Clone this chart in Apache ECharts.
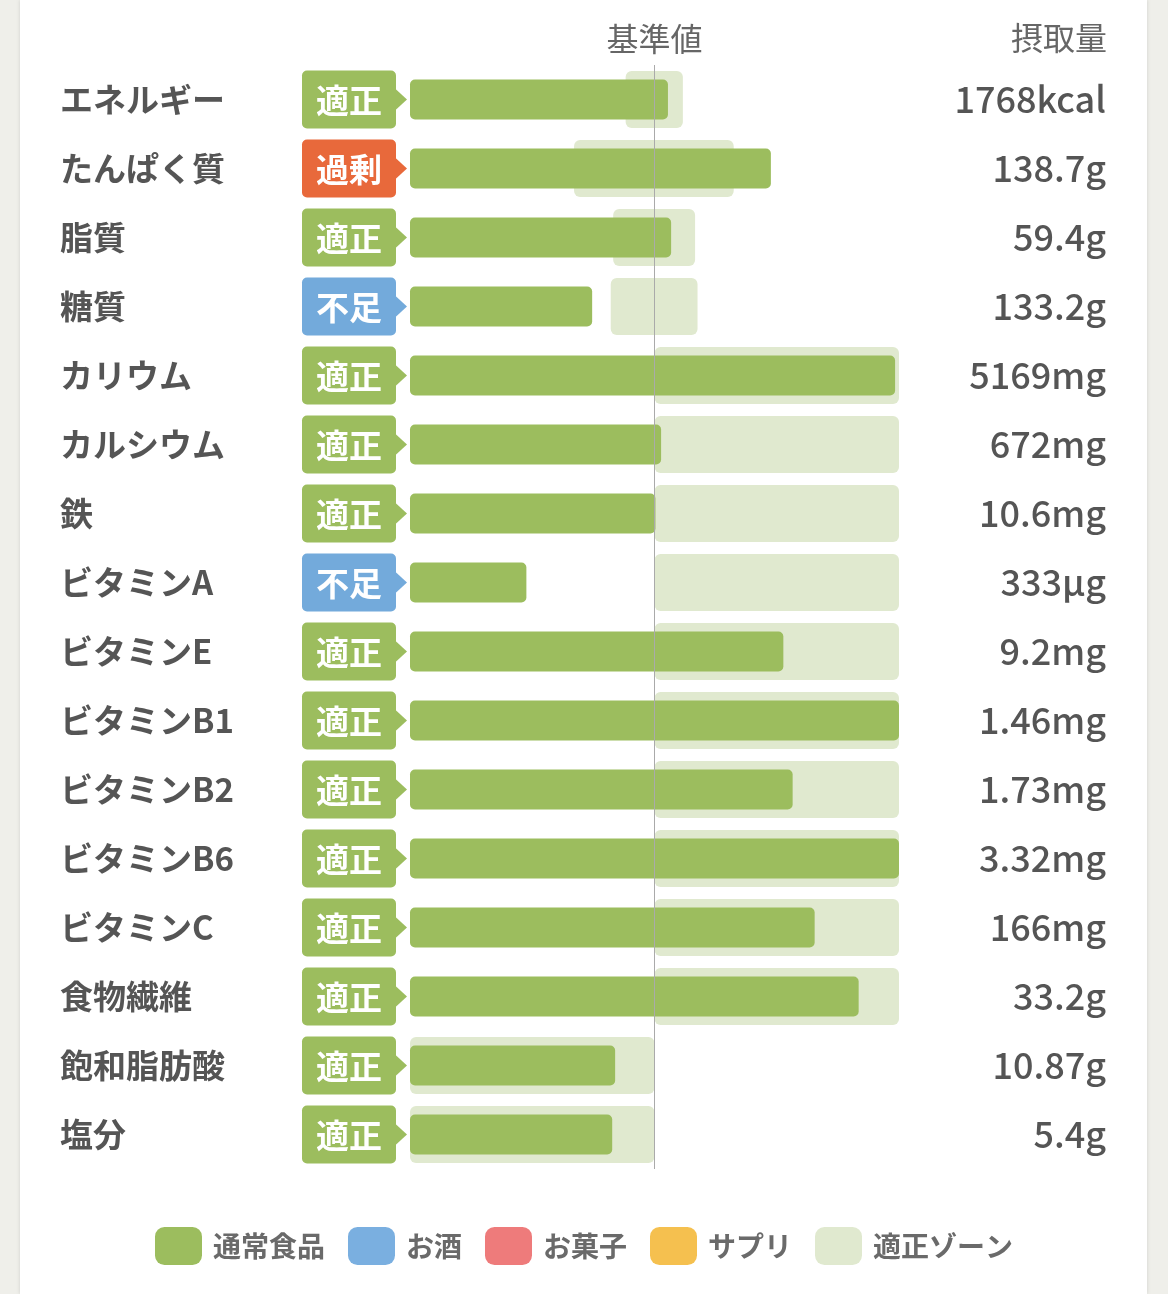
<!DOCTYPE html>
<html>
<head>
<meta charset="utf-8">
<script src="https://cdn.jsdelivr.net/npm/echarts@6/dist/echarts.min.js"></script>
<style>
  html, body { margin: 0; padding: 0; background: #efefea; }
  #panel { position: absolute; left: 20px; top: 0; width: 1127px; height: 1294px; background: #fff; box-shadow: 0 0 4px rgba(0,0,0,0.13); }
  #main { position: absolute; left: 0; top: 0; width: 1168px; height: 1294px; }
</style>
</head>
<body>
<div id="panel"></div>
<div id="main"></div>
<script>
// 栄養素ごとの摂取量 (基準値=100%)
var names = ['エネルギー', 'たんぱく質', '脂質', '糖質', 'カリウム', 'カルシウム', '鉄', 'ビタミンA',
             'ビタミンE', 'ビタミンB1', 'ビタミンB2', 'ビタミンB6', 'ビタミンC', '食物繊維', '飽和脂肪酸', '塩分'];
var judge = ['適正', '過剰', '適正', '不足', '適正', '適正', '適正', '不足',
             '適正', '適正', '適正', '適正', '適正', '適正', '適正', '適正'];
var intakeText = ['1768kcal', '138.7g', '59.4g', '133.2g', '5169mg', '672mg', '10.6mg', '333µg',
                  '9.2mg', '1.46mg', '1.73mg', '3.32mg', '166mg', '33.2g', '10.87g', '5.4g'];
// 通常食品 (%)
var intakePct = [105.5, 147.6, 106.8, 74.5, 198.4, 102.7, 100.4, 47.6,
                 152.7, 200, 156.5, 200, 165.5, 183.5, 83.9, 82.7];
// 適正ゾーン (%)
var zoneLow  = [88.2, 67.1, 83.1, 82.1, 100, 100, 100, 100, 100, 100, 100, 100, 100, 100, 0, 0];
var zoneHigh = [111.6, 132.4, 116.6, 117.6, 200, 200, 200, 200, 200, 200, 200, 200, 200, 200, 100, 100];
var legendNames = ['通常食品', 'お酒', 'お菓子', 'サプリ', '適正ゾーン'];

var judgeColors = { '適正': '#9cbd5e', '過剰': '#e8693b', '不足': '#73aadb' };
var FONT = '"Noto Sans CJK JP", "Noto Sans", sans-serif';

var myChart = echarts.init(document.getElementById('main'));

var zoneData = zoneLow.map(function (lo, i) { return [lo, zoneHigh[i], i]; });
var badgeData = judge.map(function (s, i) { return [0, i]; });

function renderZone(params, api) {
    var a = api.coord([api.value(0), api.value(2)]);
    var b = api.coord([api.value(1), api.value(2)]);
    return {
        type: 'rect',
        shape: { x: a[0], y: a[1] - 28.5, width: b[0] - a[0], height: 57, r: 6 },
        style: { fill: api.visual('color') }
    };
}

function renderBadge(params, api) {
    var p = api.coord([0, api.value(1)]);
    var s = judge[params.dataIndex];
    var c = judgeColors[s];
    var x0 = p[0] - 108;
    var y = p[1];
    return {
        type: 'group',
        children: [
            { type: 'rect', shape: { x: x0, y: y - 29, width: 94, height: 58, r: 5 }, style: { fill: c } },
            { type: 'polygon', shape: { points: [[x0 + 93, y - 11], [x0 + 105, y], [x0 + 93, y + 11]] }, style: { fill: c } },
            { type: 'text', style: { text: s, x: x0 + 47, y: y + 1, align: 'center', verticalAlign: 'middle',
                fill: '#fff', fontSize: 33, fontWeight: 'bold', fontFamily: FONT } }
        ]
    };
}

var option = {
    animation: false,
    textStyle: { fontFamily: FONT },
    title: {
        text: '摂取量',
        right: 56,
        top: 17,
        textStyle: { fontSize: 32, fontWeight: 'normal', color: '#666', fontFamily: FONT }
    },
    legend: {
        data: legendNames.map(function (n) { return { name: n, icon: 'roundRect' }; }),
        left: 'center',
        top: 1222,
        itemWidth: 47,
        itemHeight: 38,
        itemGap: 23,
        selectedMode: false,
        textStyle: { fontSize: 28, color: '#6a6a6a', fontWeight: 'bold', fontFamily: FONT, padding: [0, 0, 0, 6] }
    },
    grid: { left: 410, right: 269, top: 65, height: 1104 },
    xAxis: {
        type: 'value',
        position: 'top',
        min: 0,
        max: 200,
        interval: 100,
        axisLine: { show: false },
        axisTick: { show: false },
        splitLine: { show: false },
        axisLabel: {
            margin: 10,
            fontSize: 32,
            lineHeight: 32,
            color: '#666',
            fontFamily: FONT,
            formatter: function (v) { return v === 100 ? '基準値' : ''; }
        }
    },
    yAxis: [{
        type: 'category',
        data: names,
        inverse: true,
        axisLine: { show: false },
        axisTick: { show: false },
        axisLabel: { align: 'left', margin: 350, fontSize: 33, fontWeight: 'bold', color: '#555', fontFamily: FONT }
    }, {
        type: 'category',
        data: intakeText,
        inverse: true,
        position: 'right',
        axisLine: { show: false },
        axisTick: { show: false },
        axisLabel: { align: 'right', margin: 207, fontSize: 36, fontWeight: 500, color: '#555', fontFamily: FONT }
    }],
    series: [{
        name: '適正ゾーン',
        type: 'custom',
        renderItem: renderZone,
        itemStyle: { color: '#e0e9cf' },
        encode: { x: [0, 1], y: 2 },
        data: zoneData,
        z: 1
    }, {
        name: '通常食品',
        type: 'bar',
        stack: 'intake',
        barWidth: 40,
        itemStyle: { color: '#9cbd5e', borderRadius: 5 },
        data: intakePct,
        z: 2,
        markLine: {
            silent: true,
            symbol: 'none',
            label: { show: false },
            lineStyle: { color: '#aaa', width: 1, type: 'solid' },
            data: [{ xAxis: 100 }]
        }
    }, {
        name: 'お酒',
        type: 'bar',
        stack: 'intake',
        barWidth: 40,
        itemStyle: { color: '#7aafe0', borderRadius: 5 },
        data: []
    }, {
        name: 'お菓子',
        type: 'bar',
        stack: 'intake',
        barWidth: 40,
        itemStyle: { color: '#ee7b7b', borderRadius: 5 },
        data: []
    }, {
        name: 'サプリ',
        type: 'bar',
        stack: 'intake',
        barWidth: 40,
        itemStyle: { color: '#f5c04f', borderRadius: 5 },
        data: []
    }, {
        name: 'badge',
        type: 'custom',
        renderItem: renderBadge,
        encode: { x: 0, y: 1 },
        data: badgeData,
        clip: false,
        z: 3
    }]
};

myChart.setOption(option);
</script>
</body>
</html>
